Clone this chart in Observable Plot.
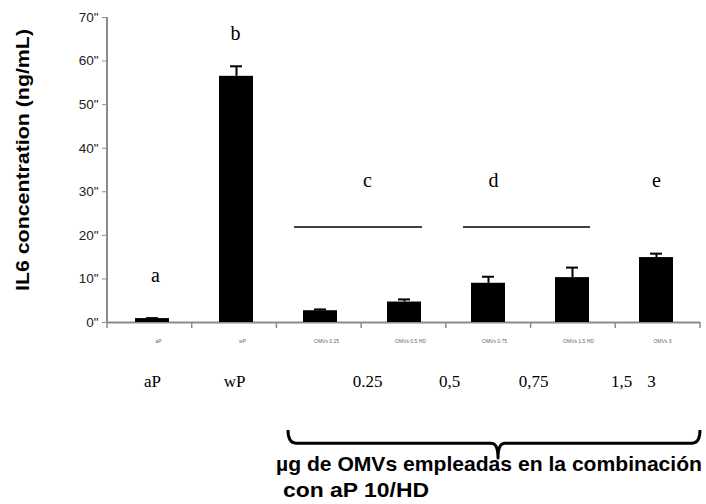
<!DOCTYPE html>
<html><head><meta charset="utf-8">
<script src="https://cdn.jsdelivr.net/npm/d3@7"></script>
<script src="https://cdn.jsdelivr.net/npm/@observablehq/plot@0.6"></script>
<style>body{margin:0;background:#fff}</style>
</head><body><div id="chart"></div>
<script>
// ---- data ----
const categories = ["aP", "wP", "0.25", "0,5", "0,75", "1,5", "3"];
const values = [0.9, 56.5, 2.7, 4.7, 9.0, 10.3, 14.9];
const errors = [0.1, 2.3, 0.3, 0.6, 1.5, 2.3, 0.9];
const tinyLabels = ["aP", "wP", "OMVs 0.25", "OMVs 0.5 HD", "OMVs 0.75", "OMVs 1.5 HD", "OMVs 3"];
const groupLabels = ["aP", "wP", "0.25", "0,5", "0,75", "1,5", "3"];
const letters = ["a", "b", "c", "d", "e"];
const letterY = [10.8, 66.3, 32.6, 32.6, 32.6];
const lineY = 21.8;
const yTicks = [0, 10, 20, 30, 40, 50, 60, 70];
const yTitle = "IL6 concentration (ng/mL)";
const caption1 = "µg de OMVs empleadas en la combinación";
const caption2 = "con aP 10/HD";

const data = categories.map((c, i) => ({cat: c, value: values[i], err: errors[i]}));

const W = 706, H = 504, mL = 107, mR = 6, mT = 17, mB = 182;
const step = (W - mL - mR) / categories.length;
const labelShift = [0, -2, 47, 45, 45, 49, -5];

const serifLabelMarks = groupLabels.map((t, i) =>
  Plot.text([t], {x: () => categories[i], y: () => -13.5, text: d => d,
    dx: labelShift[i],
    fontFamily: "Liberation Serif, Times New Roman, serif", fontSize: 17, fill: "#000"}));

const plot = Plot.plot({
  width: W, height: H,
  marginLeft: mL, marginRight: mR, marginTop: mT, marginBottom: mB,
  style: {background: "#fff", fontFamily: "Liberation Sans, Arial, sans-serif", overflow: "visible"},
  x: {domain: categories, paddingInner: 0.6, paddingOuter: 0.3, axis: null},
  y: {domain: [0, 70], axis: null},
  marks: [
    Plot.ruleY([0], {stroke: "#8c8c8c", strokeWidth: 2}),
    Plot.barY(data, {x: "cat", y: "value", fill: "#000"}),
    Plot.ruleX(data, {x: "cat", y1: "value", y2: d => d.value + d.err, stroke: "#000", strokeWidth: 2}),
    Plot.tickY(data, {x: "cat", y: d => d.value + d.err, stroke: "#000", strokeWidth: 2, insetLeft: 11, insetRight: 11}),
    Plot.axisY({ticks: yTicks, tickSize: 5, tickPadding: 4, tickFormat: d => d + '"', label: null,
      stroke: "#8c8c8c", fill: "#222", fontSize: 13.5}),
    Plot.text(data, {x: "cat", y: () => -4.4, text: (d, i) => tinyLabels[i], fontSize: 5, fill: "#666", dx: 6}),
    ...serifLabelMarks,
    // significance letters
    Plot.text([letters[0]], {x: () => "aP", y: () => letterY[0], text: d => d, fontFamily: "Liberation Serif, serif", fontSize: 20, dx: 3}),
    Plot.text([letters[1]], {x: () => "wP", y: () => letterY[1], text: d => d, fontFamily: "Liberation Serif, serif", fontSize: 20, dx: -1}),
    Plot.text([letters[2]], {x: () => "0,5", y: () => letterY[2], text: d => d, fontFamily: "Liberation Serif, serif", fontSize: 20, dx: -37}),
    Plot.text([letters[3]], {x: () => "0,75", y: () => letterY[3], text: d => d, fontFamily: "Liberation Serif, serif", fontSize: 20, dx: 5}),
    Plot.text([letters[4]], {x: () => "3", y: () => letterY[4], text: d => d, fontFamily: "Liberation Serif, serif", fontSize: 20, dx: 0})
  ]
});

const svg = d3.select(plot);
const xs = plot.scale("x"), ys = plot.scale("y");
const x0 = mL, x1 = W - mR;
// y axis line
svg.append("line").attr("x1", x0).attr("x2", x0).attr("y1", ys.apply(0)).attr("y2", ys.apply(70))
  .attr("stroke", "#8c8c8c").attr("stroke-width", 2);
// category boundary ticks
for (let i = 0; i <= categories.length; i++) {
  const xx = x0 + i * step;
  svg.append("line").attr("x1", xx).attr("x2", xx).attr("y1", ys.apply(0)).attr("y2", ys.apply(0) + 6)
    .attr("stroke", "#8c8c8c").attr("stroke-width", 1.5);
}
// grouping lines
const lineAt = (a, b) => svg.append("line").attr("x1", a).attr("x2", b)
  .attr("y1", ys.apply(lineY)).attr("y2", ys.apply(lineY)).attr("stroke", "#000").attr("stroke-width", 1.5);
const c025 = xs.apply("0.25") + xs.bandwidth / 2, c05 = xs.apply("0,5") + xs.bandwidth / 2;
const c075 = xs.apply("0,75") + xs.bandwidth / 2, c15 = xs.apply("1,5") + xs.bandwidth / 2;
lineAt(c025 - 26, c05 + 18);
lineAt(c075 - 25, c15 + 18);
// brace
const bx0 = xs.apply("0.25") - 15, bx1 = x1, bxm = 498;
const yt = ys.apply(-24.8), ym = ys.apply(-27.8), yb = ys.apply(-31.2);
svg.append("path").attr("fill", "none").attr("stroke", "#000").attr("stroke-width", 3)
  .attr("stroke-linejoin", "round")
  .attr("d", `M${bx0},${yt} Q${bx0},${ym} ${bx0 + 8},${ym} L${bxm - 7},${ym} Q${bxm},${ym} ${bxm},${yb} Q${bxm},${ym} ${bxm + 7},${ym} L${bx1 - 8},${ym} Q${bx1},${ym} ${bx1},${yt}`);
// caption
const cap = svg.append("g").attr("text-anchor", "start").attr("font-family", "Liberation Sans, Arial, sans-serif")
  .attr("font-weight", "bold").attr("font-size", 21).attr("fill", "#000");
cap.append("text").attr("x", 276).attr("y", 471).attr("textLength", 426).attr("lengthAdjust", "spacingAndGlyphs").text(caption1);
cap.append("text").attr("x", 283).attr("y", 497).attr("textLength", 146).attr("lengthAdjust", "spacingAndGlyphs").text(caption2);
// y title
svg.append("text").attr("transform", `translate(29,160) rotate(-90)`).attr("text-anchor", "middle")
  .attr("font-family", "Liberation Sans, Arial, sans-serif").attr("font-weight", "bold").attr("font-size", 18)
  .attr("textLength", 262).attr("lengthAdjust", "spacingAndGlyphs").text(yTitle);

document.getElementById("chart").appendChild(plot);
</script>
</body></html>
